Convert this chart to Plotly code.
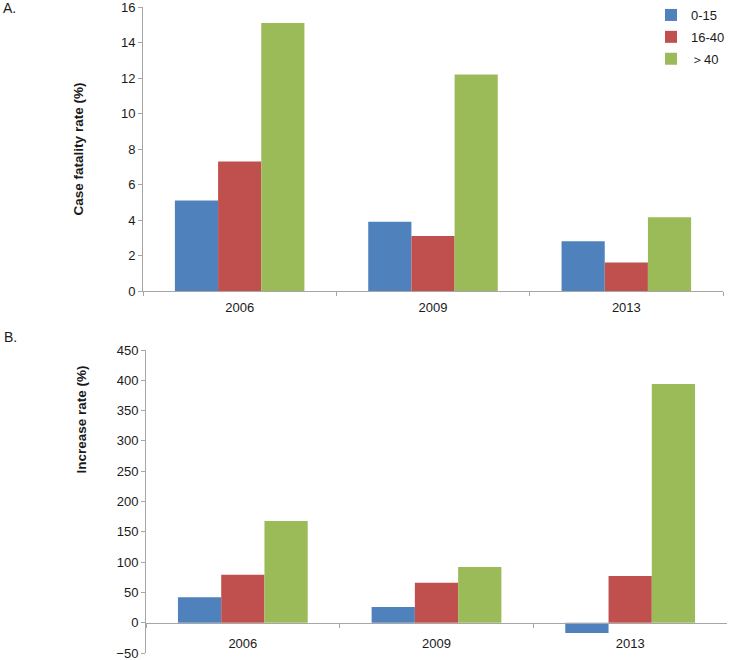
import plotly.graph_objects as go

years = ["2006", "2009", "2013"]
groups = ["0-15", "16-40", "＞40"]
colors = ["#4F81BD", "#C0504D", "#9BBB59"]

cfr_0_15 = [5.1, 3.9, 2.8]
cfr_16_40 = [7.3, 3.1, 1.6]
cfr_gt40 = [15.1, 12.2, 4.15]

inc_0_15 = [42, 26, -17]
inc_16_40 = [79, 66, 77]
inc_gt40 = [168, 92, 394]

cfr = [cfr_0_15, cfr_16_40, cfr_gt40]
inc = [inc_0_15, inc_16_40, inc_gt40]

W, H = 730, 660
MT = 6
FONT = "Liberation Sans, Arial, sans-serif"
AX = "#A6A6A6"


def fx(px):
    return px / W


def fy(px):
    return (H - px) / (H - MT)


fig = go.Figure()
for g, c, v in zip(groups, colors, cfr):
    fig.add_trace(go.Bar(x=years, y=v, name=g, marker=dict(color=c, line=dict(width=0)),
                         xaxis="x", yaxis="y", legendgroup=g))
for g, c, v in zip(groups, colors, inc):
    fig.add_trace(go.Bar(x=years, y=v, name=g, marker=dict(color=c, line=dict(width=0)),
                         xaxis="x2", yaxis="y2", legendgroup=g, showlegend=False))

ax_dom = [fx(143), fx(723)]
ay_dom = [fy(291), min(1.0, fy(7))]
bx_dom = [fx(146), fx(727)]
by_dom = [fy(653), fy(350)]
b_range = [-50, 450]
zero_pos = by_dom[0] + (by_dom[1] - by_dom[0]) * (0 - b_range[0]) / (b_range[1] - b_range[0])

tickfont = dict(family=FONT, size=13, color="#1a1a1a")
titlefont = dict(family=FONT, size=13.5, color="#1a1a1a", weight="bold")

common_x = dict(type="category", showline=True, linecolor=AX, linewidth=1,
                ticks="outside", tickson="boundaries", ticklen=4, tickcolor=AX,
                showgrid=False, zeroline=False, tickfont=tickfont, fixedrange=True,
                automargin=False, ticklabeloverflow="allow")
common_y = dict(showline=True, linecolor=AX, linewidth=1, ticks="outside",
                ticklen=4, tickcolor=AX, showgrid=False, zeroline=False,
                tickfont=tickfont, fixedrange=True, automargin=False,
                ticklabeloverflow="allow")

fig.update_layout(
    width=W, height=H,
    margin=dict(l=0, r=0, t=MT, b=0),
    paper_bgcolor="white", plot_bgcolor="white",
    barmode="group", bargap=0.33, bargroupgap=0,
    font=dict(family=FONT, size=13, color="#1a1a1a"),
    xaxis=dict(domain=ax_dom, anchor="y", ticklabelstandoff=4, **common_x),
    yaxis=dict(domain=ay_dom, anchor="x", range=[0, 16], dtick=2,
               title=dict(text="Case fatality rate (%)", font=titlefont, standoff=34),
               **common_y),
    xaxis2=dict(domain=bx_dom, anchor="free", position=zero_pos,
                ticklabelstandoff=9, **common_x),
    yaxis2=dict(domain=by_dom, anchor="x2", range=b_range, dtick=50, **common_y),
    legend=dict(x=1.0, y=fy(0), xanchor="right", yanchor="top", tracegroupgap=2,
                font=dict(family=FONT, size=13, color="#1a1a1a"),
                bgcolor="rgba(0,0,0,0)", itemclick=False, itemdoubleclick=False),
    showlegend=True,
    hovermode=False,
    annotations=[
        dict(text="A.", x=fx(1), y=fy(8), xref="paper", yref="paper",
             xanchor="left", yanchor="middle", showarrow=False,
             font=dict(family=FONT, size=14, color="#1a1a1a")),
        dict(text="B.", x=fx(2), y=fy(337), xref="paper", yref="paper",
             xanchor="left", yanchor="middle", showarrow=False,
             font=dict(family=FONT, size=14, color="#1a1a1a")),
        dict(text="Increase rate (%)", x=fx(80.5), y=fy(420), xref="paper", yref="paper",
             xanchor="center", yanchor="middle", textangle=-90, showarrow=False,
             font=titlefont),
    ],
)

fig.write_html("out.html", config={"displayModeBar": False},
               post_script="document.body.style.margin='0px';")
